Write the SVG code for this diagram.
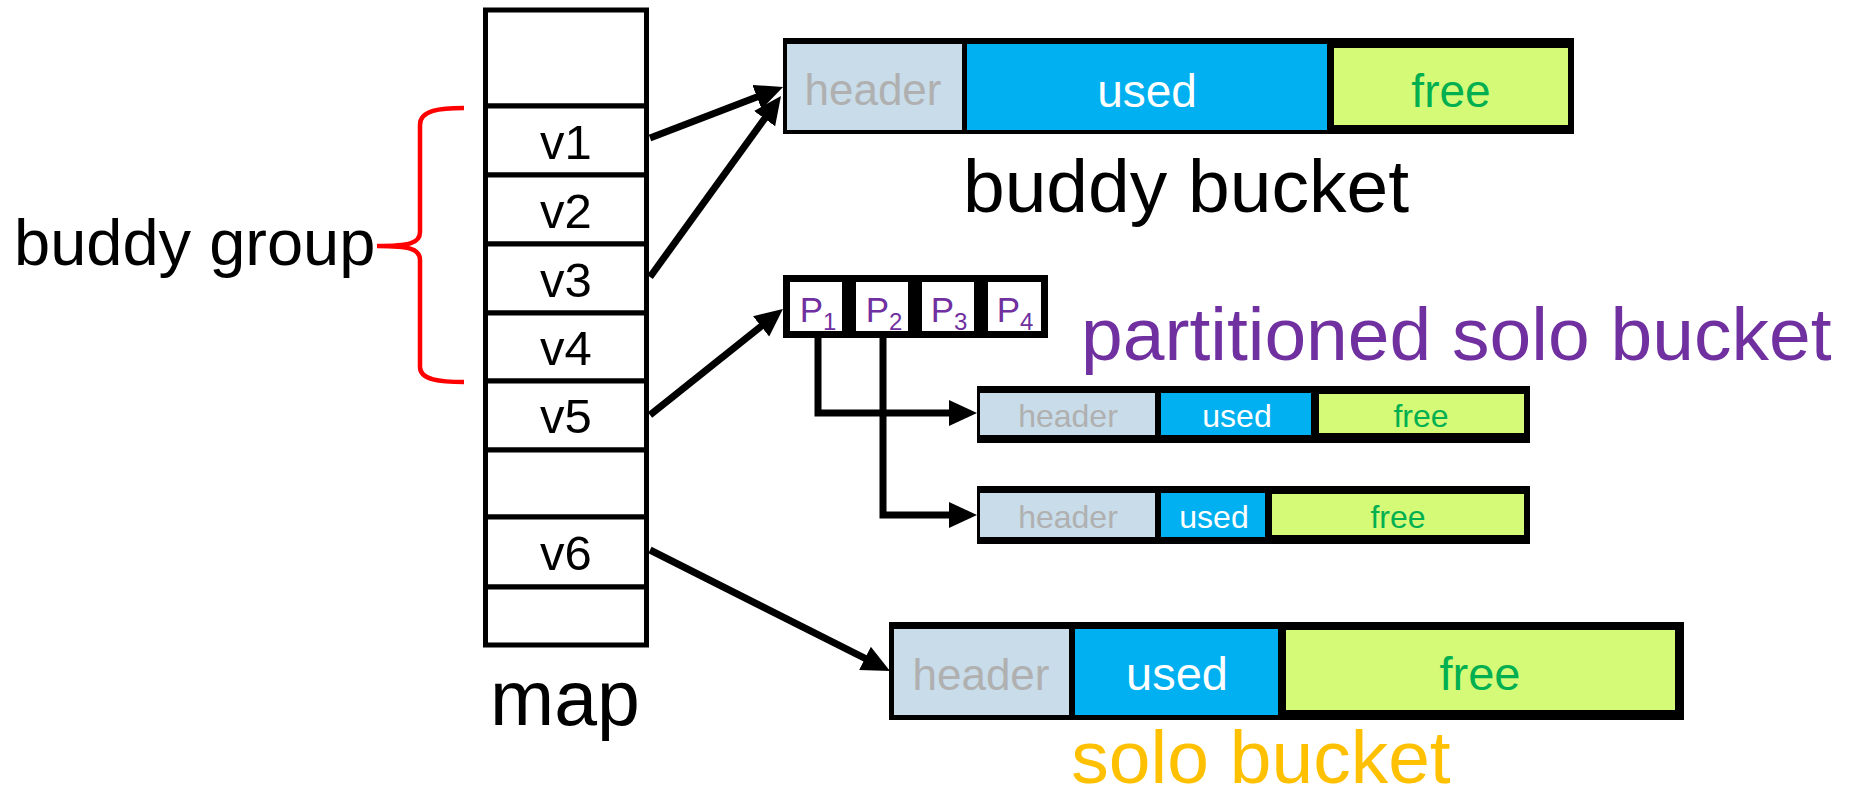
<svg xmlns="http://www.w3.org/2000/svg" width="1860" height="800" viewBox="0 0 1860 800">
<defs>
<style>
text{font-family:"Liberation Sans",Arial,sans-serif;}
.cell{fill:#fff;stroke:#000;stroke-width:5;}
.vl{font-size:49px;text-anchor:middle;fill:#000;}
.frame{fill:#000;}
.hdr{fill:#C8DCEA;}
.used{fill:#00B0F0;}
.free{fill:#D5FA78;}
.th{fill:#B0B0B0;text-anchor:middle;}
.tu{fill:#fff;text-anchor:middle;}
.tf{fill:#00B050;text-anchor:middle;}
.pc{fill:#fff;stroke:#000;stroke-width:7;}
.pt{fill:#7030A0;font-size:35px;text-anchor:middle;}
.conn{fill:none;stroke:#000;stroke-width:7;marker-end:url(#ah);}
</style>
<marker id="ah" markerUnits="userSpaceOnUse" markerWidth="30" markerHeight="28" refX="14" refY="13" orient="auto"><path d="M0,0 L28,13 L0,26 z" fill="#000"/></marker>
</defs>
<rect width="1860" height="800" fill="#fff"/>

<g id="map">
<rect class="cell" x="485.5" y="10" width="161" height="96"/>
<rect class="cell" x="485.5" y="106" width="161" height="69"/>
<rect class="cell" x="485.5" y="175" width="161" height="69"/>
<rect class="cell" x="485.5" y="244" width="161" height="69"/>
<rect class="cell" x="485.5" y="313" width="161" height="68"/>
<rect class="cell" x="485.5" y="381" width="161" height="69"/>
<rect class="cell" x="485.5" y="450" width="161" height="67"/>
<rect class="cell" x="485.5" y="517" width="161" height="70"/>
<rect class="cell" x="485.5" y="587" width="161" height="58"/>
<text class="vl" x="566" y="159">v1</text>
<text class="vl" x="566" y="228">v2</text>
<text class="vl" x="566" y="297">v3</text>
<text class="vl" x="566" y="365">v4</text>
<text class="vl" x="566" y="433">v5</text>
<text class="vl" x="566" y="570">v6</text>
<text x="565" y="725" font-size="77" text-anchor="middle">map</text>
</g>

<g id="buddy-group">
<path d="M464,108 C440,108 420,110 420,125 L420,232 C420,243 410,246 377,246 C410,246 420,249 420,260 L420,367 C420,380 440,382 464,382" fill="none" stroke="#FF0000" stroke-width="4.5"/>
<text x="14" y="265" font-size="65">buddy group</text>
</g>

<g id="buddy-bucket">
<rect class="frame" x="783" y="38" width="791" height="96"/>
<rect class="hdr" x="787" y="44" width="175" height="86"/>
<rect class="used" x="967" y="44" width="360" height="86"/>
<rect class="free" x="1334" y="48" width="234" height="77"/>
<text class="th" x="873" y="105" font-size="44">header</text>
<text class="tu" x="1147" y="107" font-size="46">used</text>
<text class="tf" x="1451" y="107" font-size="46">free</text>
<text x="1186" y="212" font-size="75" text-anchor="middle">buddy bucket</text>
</g>

<g id="partition-table">
<rect class="pc" x="786.5" y="278.5" width="59" height="56"/>
<rect class="pc" x="852.5" y="278.5" width="59" height="56"/>
<rect class="pc" x="918.5" y="278.5" width="59" height="56"/>
<rect class="pc" x="984.5" y="278.5" width="60" height="56"/>
<text class="pt" x="818" y="322">P<tspan font-size="24" dy="8">1</tspan></text>
<text class="pt" x="884" y="322">P<tspan font-size="24" dy="8">2</tspan></text>
<text class="pt" x="949" y="322">P<tspan font-size="24" dy="8">3</tspan></text>
<text class="pt" x="1015" y="322">P<tspan font-size="24" dy="8">4</tspan></text>
<text x="1081" y="360" font-size="75" fill="#7030A0">partitioned solo bucket</text>
</g>

<g id="partition-bucket-1">
<rect class="frame" x="977" y="386" width="553" height="57"/>
<rect class="hdr" x="980" y="393" width="175" height="42"/>
<rect class="used" x="1161" y="393" width="150" height="42"/>
<rect class="free" x="1319" y="394" width="205" height="39"/>
<text class="th" x="1068" y="427" font-size="32">header</text>
<text class="tu" x="1237" y="427" font-size="32">used</text>
<text class="tf" x="1421" y="427" font-size="32">free</text>
</g>

<g id="partition-bucket-2">
<rect class="frame" x="977" y="486" width="553" height="58"/>
<rect class="hdr" x="980" y="493" width="175" height="44"/>
<rect class="used" x="1161" y="493" width="104" height="44"/>
<rect class="free" x="1272" y="494" width="252" height="41"/>
<text class="th" x="1068" y="528" font-size="32">header</text>
<text class="tu" x="1214" y="528" font-size="32">used</text>
<text class="tf" x="1398" y="528" font-size="32">free</text>
</g>

<g id="solo-bucket">
<rect class="frame" x="889" y="622" width="795" height="98"/>
<rect class="hdr" x="894" y="629" width="175" height="86"/>
<rect class="used" x="1075" y="629" width="203" height="86"/>
<rect class="free" x="1286" y="630" width="389" height="80"/>
<text class="th" x="981" y="690" font-size="44">header</text>
<text class="tu" x="1177" y="690" font-size="47">used</text>
<text class="tf" x="1480" y="690" font-size="47">free</text>
<text x="1261" y="783" font-size="75" text-anchor="middle" fill="#FFC000">solo bucket</text>
</g>

<g id="connectors">
<path class="conn" d="M650,138 L770,92"/>
<path class="conn" d="M650,277 L772.8,107.3"/>
<path class="conn" d="M650,415 L772,317.7"/>
<path class="conn" d="M650,550 L877.5,664.7"/>
<path class="conn" d="M818,338 V413 H963"/>
<path class="conn" d="M883,338 V515 H963"/>
</g>
</svg>
